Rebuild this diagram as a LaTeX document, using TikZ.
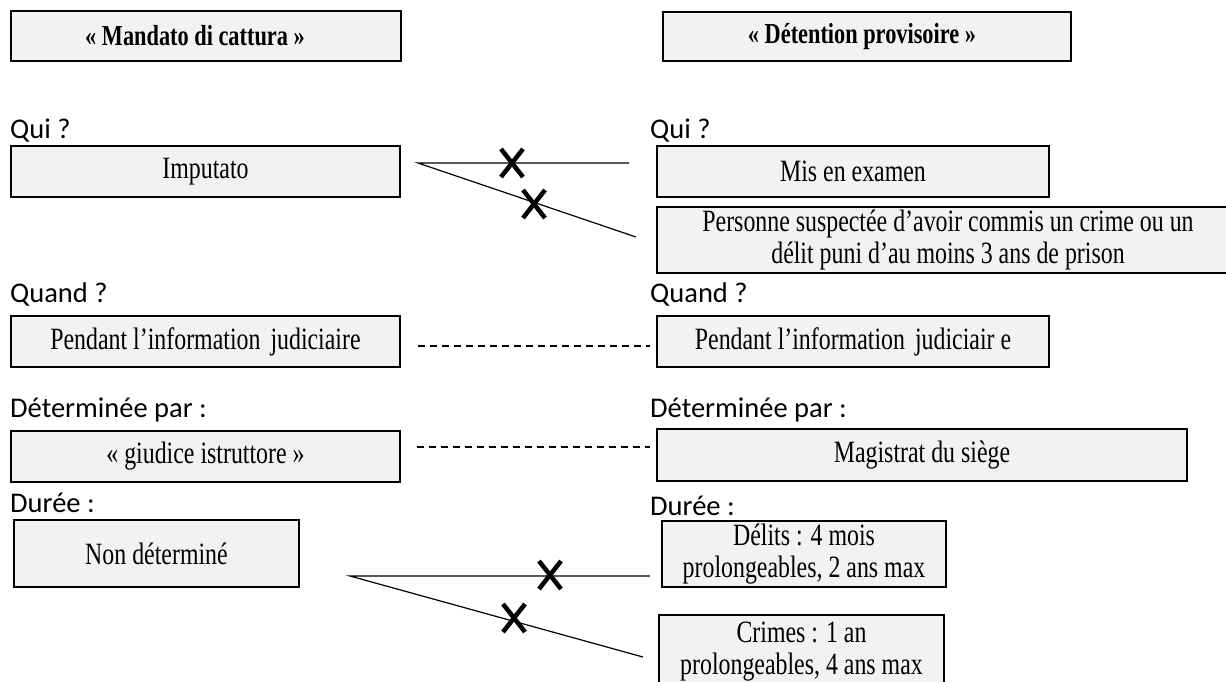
\documentclass[tikz,border=0pt]{standalone}
\usepackage{fontspec}
\newfontfamily\boxfont[FakeStretch=0.77]{Liberation Serif}
\newfontfamily\labelfont{Carlito}
\definecolor{boxgray}{HTML}{F2F2F2}
\tikzset{
  boite/.style={draw=black, line width=1.6pt, fill=boxgray, inner sep=0pt,
    align=center, font=\boxfont\fontsize{31}{32}\selectfont},
  titre/.style={boite, font=\boxfont\bfseries\fontsize{29}{30}\selectfont},
  etiquette/.style={anchor=base west, inner sep=0pt, font=\labelfont\fontsize{28.5}{32}\selectfont},
  lien/.style={line width=1.2pt},
  pointille/.style={line width=1.5pt, dash pattern=on 7pt off 5pt},
  croix/.style={line width=4.5pt}
}
\begin{document}
\begin{tikzpicture}[x=1pt,y=-1pt]
\useasboundingbox (0,0) rectangle (1226,681);

% titles
\node[titre, minimum width=390pt, minimum height=50pt] (titreMandat) at (206,36) {« Mandato di cattura »\hspace*{22pt}};
\node[titre, minimum width=408pt, minimum height=49pt] (titreDetention) at (867,36.5) {« Détention provisoire »\hspace*{10pt}};

% Qui ?
\node[etiquette] (quiL) at (10,138) {Qui ?};
\node[etiquette] (quiR) at (650,138) {Qui ?};
\node[boite, minimum width=389pt, minimum height=51pt] (imputato) at (205.5,171.5) {Imputato};
\node[boite, minimum width=392pt, minimum height=51pt] (misExamen) at (853,171.5) {Mis en examen};
\node[boite, minimum width=582pt, minimum height=66pt] (personne) at (948,240)
  {Personne suspectée d’avoir commis un crime ou un\\délit puni d’au moins 3 ans de prison};

% Quand ?
\node[etiquette] (quandL) at (10,302) {Quand ?};
\node[etiquette] (quandR) at (650,302) {Quand ?};
\node[boite, minimum width=389pt, minimum height=51pt] (pendantL) at (205.5,341.5) {Pendant l’information\hspace{4pt} judiciaire};
\node[boite, minimum width=392pt, minimum height=51pt] (pendantR) at (853,341.5) {Pendant l’information\hspace{4pt} judiciair e};

% Determinee par
\node[etiquette] (parL) at (10,417) {Déterminée par :};
\node[etiquette] (parR) at (650,417) {Déterminée par :};
\node[boite, minimum width=389pt, minimum height=51pt] (giudice) at (205.5,456.5) {« giudice istruttore »};
\node[boite, minimum width=530pt, minimum height=52pt] (magistrat) at (922,455) {Magistrat du siège};

% Duree
\node[etiquette] (dureeL) at (10,512) {Durée :};
\node[etiquette] (dureeR) at (650,515) {Durée :};
\node[boite, minimum width=285pt, minimum height=67pt] (nonDetermine) at (156.5,553.5) {Non déterminé};
\node[boite, minimum width=284pt, minimum height=66pt] (delits) at (804,554) {Délits : 4 mois\\prolongeables, 2 ans max};
\node[boite, minimum width=285pt, minimum height=73pt] (crimes) at (801.5,651.5) {Crimes : 1 an\\prolongeables, 4 ans max};

% connectors
\coordinate (quiFork) at (418,163);
\coordinate (quiA) at (629,163);
\coordinate (quiB) at (636,237);
\draw[lien] (quiA) -- (quiFork) -- (quiB);
\coordinate (dureeFork) at (350,576);
\coordinate (dureeA) at (650,576);
\coordinate (dureeB) at (643,657);
\draw[lien] (dureeA) -- (dureeFork) -- (dureeB);
\coordinate (quandA) at (418,346);
\coordinate (quandB) at (650,346);
\draw[pointille] (quandA) -- (quandB);
\coordinate (parA) at (417,447);
\coordinate (parB) at (650,447);
\draw[pointille] (parA) -- (parB);

% crosses
\foreach \p in {(512,163),(534,204),(550,575),(514,618)}
  \draw[croix] \p ++(-11,-14) -- ++(22,28) \p ++(11,-14) -- ++(-22,28);
\end{tikzpicture}
\end{document}
